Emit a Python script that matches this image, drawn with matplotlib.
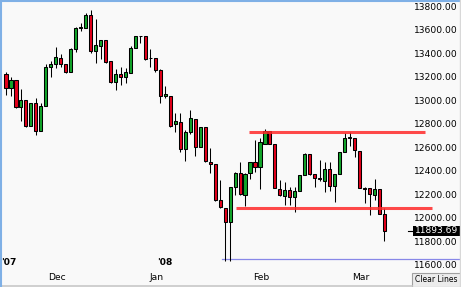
import matplotlib.pyplot as plt
import matplotlib.transforms as mtransforms
from matplotlib.patches import Rectangle

# daily candles, 15 Nov 2007 .. 7 Mar 2008
opens = [13230, 13111, 13179, 12949, 13009, 12787, 12983, 12745, 12958, 13289,
         13315, 13366, 13315, 13247, 13443, 13621, 13621, 13732, 13426, 13468,
         13519, 13340, 13162, 13230, 13204, 13238, 13451, 13555, 13553, 13368,
         13366, 13264, 13043, 13043, 12804, 12821, 12592, 12736, 12847, 12609,
         12779, 12481, 12464, 12158, 12090, 11970, 12268, 12387, 12200, 12387,
         12481, 12438, 12634, 12745, 12634, 12251, 12192, 12243, 12183, 12234,
         12370, 12549, 12379, 12345, 12319, 12421, 12277, 12379, 12566, 12685,
         12685, 12575, 12260, 12260, 12200, 12251, 12038]
highs = [13247, 13204, 13179, 13102, 13009, 12983, 13026, 12983, 13315, 13340,
         13460, 13400, 13315, 13451, 13630, 13664, 13749, 13774, 13698, 13519,
         13519, 13340, 13272, 13289, 13281, 13468, 13553, 13555, 13553, 13443,
         13366, 13272, 13128, 13043, 12898, 12898, 12750, 12923, 12847, 12779,
         12779, 12600, 12464, 12328, 12090, 12268, 12396, 12481, 12387, 12481,
         12668, 12685, 12762, 12745, 12634, 12328, 12311, 12268, 12268, 12370,
         12558, 12549, 12379, 12498, 12481, 12481, 12379, 12566, 12728, 12736,
         12685, 12575, 12268, 12260, 12336, 12251, 12090]
lows = [13051, 13043, 12940, 12830, 12779, 12787, 12711, 12745, 12958, 13204,
        13281, 13289, 13238, 13247, 13417, 13596, 13621, 13409, 13323, 13357,
        13323, 13153, 13094, 13136, 13153, 13238, 13451, 13494, 13349, 13289,
        13247, 12983, 13026, 12779, 12736, 12566, 12489, 12720, 12532, 12609,
        12481, 12387, 12149, 12090, 11635, 11635, 12200, 12200, 12107, 12336,
        12396, 12251, 12634, 12634, 12260, 12192, 12115, 12115, 12055, 12234,
        12370, 12370, 12268, 12320, 12226, 12234, 12141, 12379, 12566, 12617,
        12524, 12260, 12130, 12030, 12158, 12038, 11809]
closes = [13111, 13179, 12949, 13009, 12787, 12983, 12745, 12958, 13289, 13315,
          13375, 13315, 13247, 13443, 13621, 13630, 13732, 13426, 13477, 13519,
          13332, 13162, 13230, 13204, 13247, 13451, 13553, 13550, 13357, 13364,
          13264, 13043, 13060, 12787, 12830, 12592, 12736, 12855, 12609, 12779,
          12489, 12464, 12158, 12098, 11970, 12268, 12387, 12209, 12379, 12481,
          12438, 12651, 12745, 12634, 12260, 12200, 12243, 12183, 12234, 12370,
          12549, 12379, 12345, 12336, 12421, 12277, 12379, 12566, 12685, 12694,
          12583, 12260, 12255, 12209, 12251, 12038, 11894]

month_labels = ['Dec', 'Jan', 'Feb', 'Mar']
month_first = [11, 31, 52, 72]
year_labels = ["'07", "'08"]
year_pos = [0.5, 31.9]

price_ticks = [13800, 13600, 13400, 13200, 13000, 12800, 12600,
               12400, 12200, 12000, 11800, 11600]
last_price = 11893.69

# drawn trend lines: level, start, end (candle index)
resistance = (12736, 48.8, 84.1)
support = (12090, 46.2, 85.5)
low_line = (11655, 43.4, 92)

GREEN = '#12a52a'
RED = '#e3001b'
BG = '#f9f9f9'

fig = plt.figure(figsize=(4.61, 2.87), dpi=100, facecolor=BG)
ax = fig.add_axes([0, 0, 1, 1])
ax.set_facecolor(BG)
ax.set_xlim(-6 / 4.98, 455 / 4.98)
ax.set_ylim(11417, 13860)
ax.axis('off')

xs = range(len(opens))
ax.vlines(xs, lows, highs, color='black', linewidth=0.75, zorder=2)
for i in xs:
    o, c = opens[i], closes[i]
    col = GREEN if c >= o else RED
    h = max(abs(c - o), 2)
    ax.bar(i, h, bottom=min(o, c), width=0.62, color=col,
           edgecolor='black', linewidth=0.75, zorder=3)

# user drawn lines
for lvl, x0, x1 in (resistance, support):
    ax.plot([x0, x1], [lvl, lvl], color='#ff2a2a', linewidth=2.2,
            alpha=0.85, solid_capstyle='butt', zorder=4)
ax.plot([low_line[1], low_line[2]], [low_line[0]] * 2, color='#8888e8',
        linewidth=0.9, zorder=1)

# price scale on the right
blend = mtransforms.blended_transform_factory(ax.transAxes, ax.transData)
for p in price_ticks:
    ax.text(0.897, p, f'{p:.2f}', transform=blend, ha='left', va='center',
            fontsize=6.6, color='black')

ax.add_patch(Rectangle((0.896, last_price - 40), 0.104, 80, transform=blend,
                       facecolor='black', edgecolor='none', zorder=5))
ax.text(0.948, last_price, f'{last_price:.2f}', transform=blend, ha='center',
        va='center', fontsize=6.6, color='white', zorder=6)
ax.plot([0.885, 0.896], [last_price, last_price], transform=blend,
        color='black', linewidth=0.8)

# date labels
for lab, i in zip(month_labels, month_first):
    ax.text(i - 0.8, 11500, lab, ha='center', va='center', fontsize=6.6)
for lab, x in zip(year_labels, year_pos):
    ax.text(x, 11622, lab, ha='center', va='center', fontsize=6.6,
            fontweight='bold')

# bottom strip and button
fig.add_artist(plt.Line2D([0, 412 / 461], [1.5 / 287, 1.5 / 287],
                          color='#c8c8c8', linewidth=1.2))
fig.add_artist(Rectangle((412 / 461, 0), 49 / 461, 14 / 287,
                         transform=fig.transFigure, facecolor='#ececec',
                         edgecolor='#a0a0a0', linewidth=0.8))
fig.text(436.5 / 461, 7 / 287, 'Clear Lines', ha='center', va='center',
         fontsize=5.5)

# window border
fig.add_artist(plt.Line2D([1 / 461, 1 / 461], [0, 1], color='#7fb0e6',
                          linewidth=1.5))
fig.add_artist(plt.Line2D([0, 1], [1 - 1 / 287, 1 - 1 / 287],
                          color='#7fb0e6', linewidth=1.5))
fig.add_artist(plt.Line2D([1 - 1.5 / 461, 1 - 1.5 / 461], [0, 1],
                          color='#d8d8d8', linewidth=1))

fig.savefig('out.png', dpi=100, facecolor=BG)
